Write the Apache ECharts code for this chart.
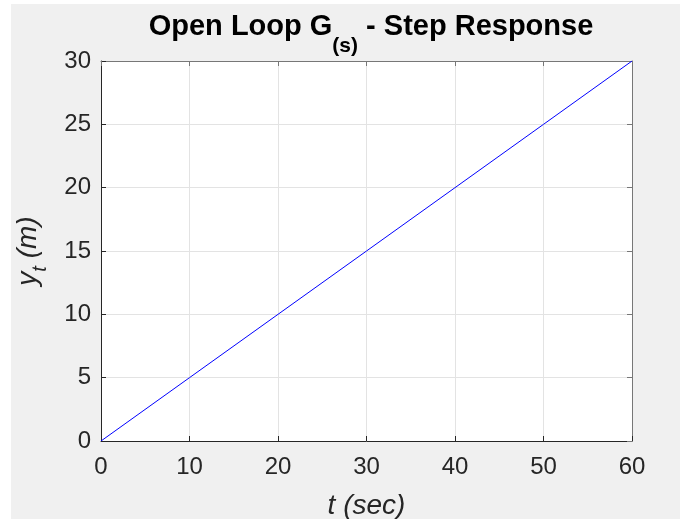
<!DOCTYPE html>
<html><head><meta charset="utf-8">
<script src="https://cdn.jsdelivr.net/npm/echarts@6/dist/echarts.min.js"></script>
<style>html,body{margin:0;padding:0;background:#fff;}#c{position:absolute;left:11px;top:4px;width:669px;height:515px;background:#f0f0f0;}</style>
</head><body><div id="c"></div>
<script>
const tValues = [0, 10, 20, 30, 40, 50, 60];
const yValues = [0, 5, 10, 15, 20, 25, 30];
const xTicks = [0, 10, 20, 30, 40, 50, 60];
const yTicks = [0, 5, 10, 15, 20, 25, 30];

const chart = echarts.init(document.getElementById('c'), null, {renderer: 'canvas'});
const font = 'Liberation Sans, Arial, Helvetica, sans-serif';
const tickColor = '#262626';
const gridLine = {show: true, lineStyle: {color: '#e3e3e3', width: 1}};
chart.setOption({
  backgroundColor: '#f0f0f0',
  animation: false,
  title: {
    text: '{a|Open Loop G}{s|(s)}{a| - Step Response}',
    left: 355, top: 3, textAlign: 'center',
    textStyle: {
      rich: {
        a: {fontFamily: font, fontWeight: 'bold', fontSize: 29, color: '#000', verticalAlign: 'top', lineHeight: 32},
        s: {fontFamily: font, fontWeight: 'bold', fontSize: 21, color: '#000', verticalAlign: 'top', padding: [24, 0, 0, 0], lineHeight: 24}
      }
    }
  },
  grid: {left: 90, top: 57, right: 48, bottom: 78, show: true, backgroundColor: '#ffffff', borderWidth: 0, containLabel: false, outerBoundsMode: 'none'},
  xAxis: [{
    type: 'value', min: 0, max: 60, interval: 10,
    axisLine: {show: true, onZero: false, lineStyle: {color: tickColor, width: 1}},
    axisTick: {show: true, inside: true, length: 5, lineStyle: {color: tickColor}},
    axisLabel: {fontFamily: font, fontSize: 24, color: tickColor, margin: 14},
    splitLine: gridLine,
    name: '{i|t (sec)}', nameLocation: 'middle', nameGap: 50,
    nameTextStyle: {rich: {i: {fontFamily: font, fontSize: 28, fontStyle: 'italic', color: tickColor, lineHeight: 30}}}
  }, {
    type: 'value', position: 'top', min: 0, max: 60, interval: 10,
    axisLine: {show: true, onZero: false, lineStyle: {color: '#777', width: 1}},
    axisTick: {show: true, inside: true, length: 5, lineStyle: {color: '#777'}},
    axisLabel: {show: false}, splitLine: {show: false}
  }],
  yAxis: [{
    type: 'value', min: 0, max: 30, interval: 5,
    axisLine: {show: true, onZero: false, lineStyle: {color: tickColor, width: 1}},
    axisTick: {show: true, inside: true, length: 5, lineStyle: {color: tickColor}},
    axisLabel: {fontFamily: font, fontSize: 24, color: tickColor, margin: 10},
    splitLine: gridLine,
    name: '{i|y}{s|t}{i| (m)}', nameLocation: 'middle', nameGap: 55, nameRotate: 90,
    nameTextStyle: {rich: {
      i: {fontFamily: font, fontSize: 28, fontStyle: 'italic', color: tickColor, verticalAlign: 'top', lineHeight: 32},
      s: {fontFamily: font, fontSize: 20, fontStyle: 'italic', color: tickColor, verticalAlign: 'top', padding: [16, 0, 0, 0], lineHeight: 22}
    }}
  }, {
    type: 'value', position: 'right', min: 0, max: 30, interval: 5,
    axisLine: {show: true, onZero: false, lineStyle: {color: '#777', width: 1}},
    axisTick: {show: true, inside: true, length: 5, lineStyle: {color: '#777'}},
    axisLabel: {show: false}, splitLine: {show: false}
  }],
  series: [{
    type: 'line', xAxisIndex: 0, yAxisIndex: 0,
    data: tValues.map((t, i) => [t, yValues[i]]),
    showSymbol: false, lineStyle: {color: '#0000ff', width: 1}, z: 5
  }]
});
</script></body></html>
